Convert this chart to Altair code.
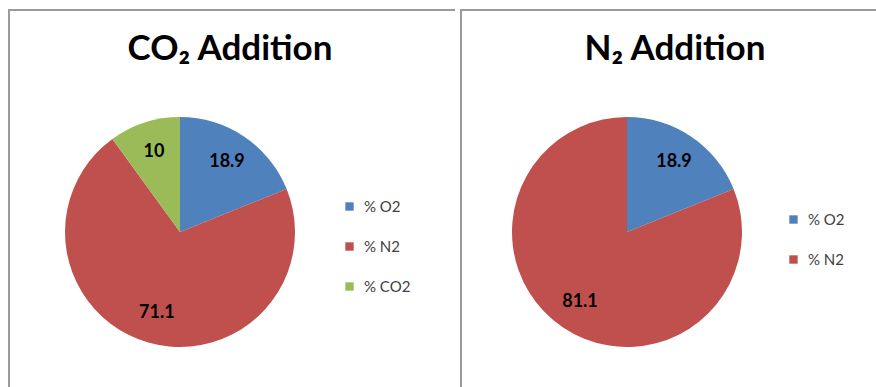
import altair as alt
import pandas as pd

# Data
co2_categories = ["% O2", "% N2", "% CO2"]
co2_values = [18.9, 71.1, 10]
n2_categories = ["% O2", "% N2"]
n2_values = [18.9, 81.1]
titles = ["CO₂ Addition", "N₂ Addition"]

colors = {"% O2": "#4F81BD", "% N2": "#C0504D", "% CO2": "#9BBB59"}

FONT = "Lato"
H = 378


def panel(cats, vals, title, width, cx, cy, tx, ty, legend_x, legend_y):
    df = pd.DataFrame({"cat": cats, "value": vals, "ord": list(range(len(cats)))})
    base = alt.Chart(df).encode(
        theta=alt.Theta("value:Q", stack=True),
        order=alt.Order("ord:Q"),
    )
    arcs = base.mark_arc(radius=115, stroke=None).encode(
        x=alt.value(cx),
        y=alt.value(cy),
        color=alt.Color(
            "cat:N",
            sort=cats,
            scale=alt.Scale(domain=cats, range=[colors[c] for c in cats]),
            legend=alt.Legend(
                title=None,
                orient="none",
                legendX=legend_x,
                legendY=legend_y,
                symbolType="square",
                symbolSize=70,
                symbolStrokeWidth=0,
                labelFont=FONT,
                labelFontSize=15,
                labelColor="#404040",
                rowPadding=24,
                labelOffset=7,
            ),
        ),
    )
    labels = base.mark_text(
        radius=84, font=FONT, fontSize=18, fontWeight="bold", color="#000000"
    ).encode(
        x=alt.value(cx),
        y=alt.value(cy),
        text=alt.Text("value:Q"),
    )
    tdf = pd.DataFrame({"t": [title]})
    title_mark = alt.Chart(tdf).mark_text(
        font=FONT, fontSize=35, fontWeight="bold", color="#000000",
        align="center", baseline="middle",
    ).encode(text="t:N", x=alt.value(tx), y=alt.value(ty))
    frame = alt.Chart(tdf).mark_rect(
        fill=None, stroke="#9a9a9a", strokeWidth=2, clip=True
    ).encode(
        x=alt.value(1), y=alt.value(1),
        x2=alt.value(width + 30), y2=alt.value(H + 30),
    )
    return alt.layer(arcs, labels, title_mark, frame).properties(width=width, height=H)


left = panel(co2_categories, co2_values, titles[0], 447, 172, 223, 222, 40, 334, 190)
right = panel(n2_categories, n2_values, titles[1], 416, 167, 223, 215, 40, 326, 203)

chart = (
    alt.hconcat(left, right, spacing=5)
    .resolve_scale(color="independent")
    .resolve_legend(color="independent")
    .properties(padding={"left": 8, "top": 9, "right": 0, "bottom": 0}, background="white")
    .configure_view(stroke=None)
)

chart.save("out.html", embed_options={"renderer": "svg", "actions": False})
